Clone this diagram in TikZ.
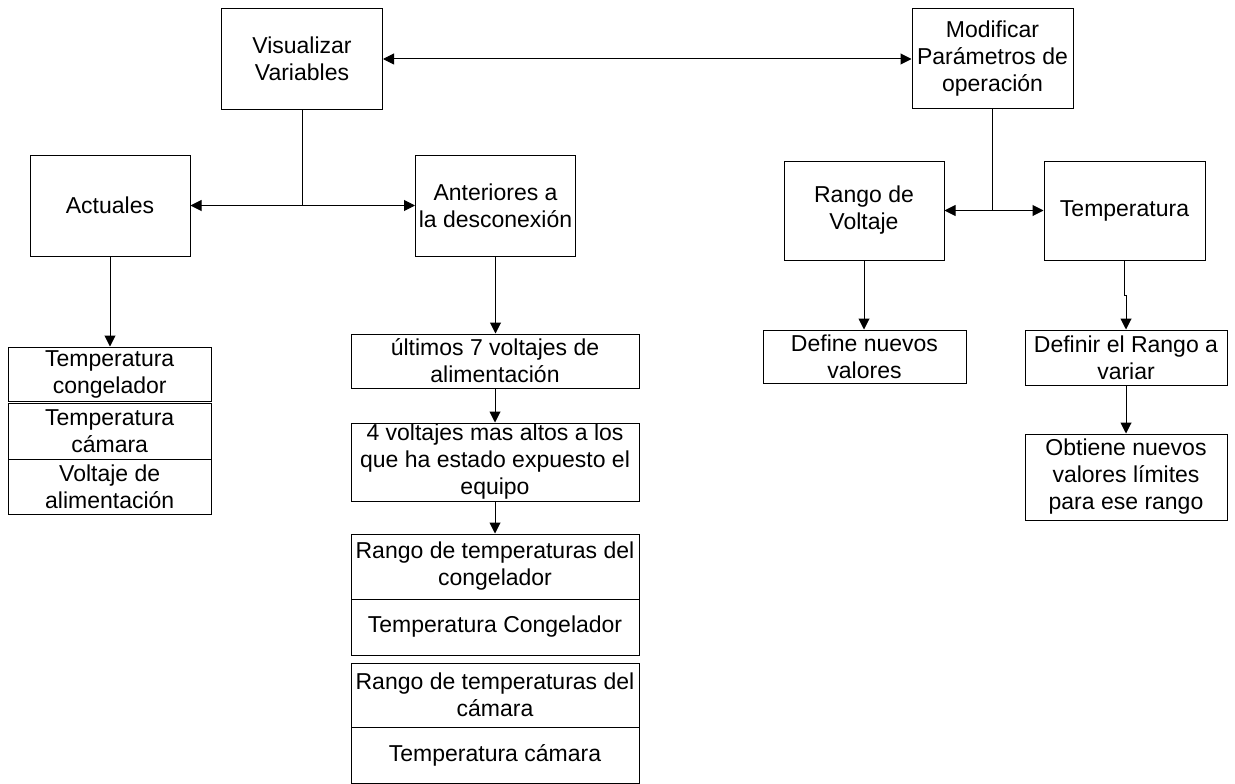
\documentclass[tikz,border=0pt]{standalone}
\usepackage{fontspec}
\setmainfont{Liberation Sans}
\usepackage{tikz}
\usetikzlibrary{positioning,arrows.meta}

\begin{document}
\begin{tikzpicture}[x=1pt, y=-1pt, line width=1pt,
    caja/.style={draw, align=center, inner sep=0pt, font=\fontsize{23}{27}\selectfont},
    flecha/.style={-{Triangle[length=11pt,width=11pt]}},
    dobleflecha/.style={{Triangle[length=11pt,width=11pt]}-{Triangle[length=11pt,width=11pt]}}]
\useasboundingbox (0,0) rectangle (1235,784);

\node[caja, minimum width=161pt, minimum height=100pt] (visualizar) at (302,59) {Visualizar\\Variables};
\node[caja, minimum width=161pt, minimum height=99pt] (modificar) at (992.5,58.5) {Modificar\\Par\'ametros de\\operaci\'on};

\node[caja, minimum width=160pt, minimum height=101pt] (actuales) at (110,205.5) {Actuales};
\node[caja, minimum width=160pt, minimum height=101pt] (anteriores) at (495.5,205.5) {Anteriores a\\la desconexi\'on};
\node[caja, minimum width=160pt, minimum height=99pt] (rango_voltaje) at (864,210.5) {Rango de\\Voltaje};
\node[caja, minimum width=161pt, minimum height=99pt] (temperatura) at (1124.5,210.5) {Temperatura};

\node[caja, minimum width=203pt, minimum height=54pt] (temp_cong) at (109.7,374) {Temperatura\\congelador};
\node[caja, minimum width=203pt, minimum height=56pt] (temp_cam) at (109.7,431) {Temperatura\\c\'amara};
\node[caja, minimum width=203pt, minimum height=55pt] (volt_alim) at (109.7,486.5) {Voltaje de\\alimentaci\'on};

\node[caja, minimum width=288pt, minimum height=54pt] (ultimos) at (495,361) {\'ultimos 7 voltajes de\\alimentaci\'on};
\node[caja, minimum width=288pt, minimum height=78pt] (altos) at (495,462) {4 voltajes mas altos a los\\que ha estado expuesto el\\equipo};
\node[caja, minimum width=288pt, minimum height=65pt] (rango_cong) at (495,566.5) {Rango de temperaturas del\\congelador};
\node[caja, minimum width=288pt, minimum height=56pt] (temp_cong2) at (495,627) {Temperatura Congelador};
\node[caja, minimum width=288pt, minimum height=64pt] (rango_cam) at (495,695) {Rango de temperaturas del\\c\'amara};
\node[caja, minimum width=288pt, minimum height=56pt] (temp_cam2) at (495,755) {Temperatura c\'amara};

\node[caja, minimum width=203pt, minimum height=53pt] (define) at (864.5,356.5) {Define nuevos\\valores};
\node[caja, minimum width=202pt, minimum height=55pt] (definir) at (1126,357.5) {Definir el Rango a\\variar};
\node[caja, minimum width=202pt, minimum height=86pt] (obtiene) at (1126,477) {Obtiene nuevos\\valores l\'imites\\para ese rango};

\coordinate (union_vis) at (302,205.5);
\coordinate (union_mod) at (992.5,210.5);

\draw[dobleflecha] (visualizar.east) -- (visualizar.east -| modificar.west);

\draw (visualizar.south) -- (union_vis);
\draw[flecha] (union_vis) -- (actuales.east);
\draw[flecha] (union_vis) -- (anteriores.west);

\draw (modificar.south) -- (union_mod);
\draw[flecha] (union_mod) -- (rango_voltaje.east);
\draw[flecha] (union_mod) -- (temperatura.west);

\draw[flecha] (actuales.south) -- (actuales.south |- temp_cong.north);
\draw[flecha] (anteriores.south) -- (anteriores.south |- ultimos.north);
\draw[flecha] (ultimos) -- (altos);
\draw[flecha] (altos) -- (rango_cong);

\draw[flecha] (rango_voltaje.south) -- (rango_voltaje.south |- define.north);
\draw[flecha] (temperatura.south) -- ++(0,35) -| (definir.north);
\draw[flecha] (definir) -- (obtiene);

\end{tikzpicture}
\end{document}
